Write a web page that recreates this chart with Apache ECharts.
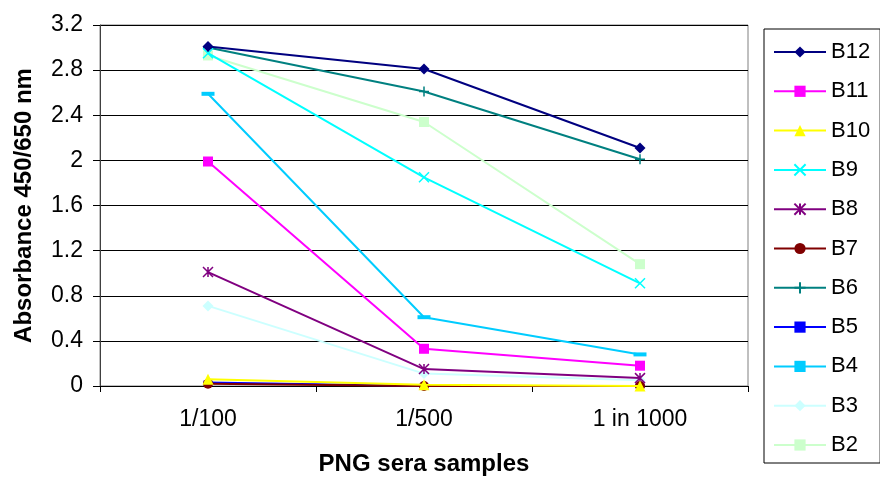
<!DOCTYPE html>
<html>
<head>
<meta charset="utf-8">
<script src="https://cdn.jsdelivr.net/npm/echarts@6/dist/echarts.min.js"></script>
<style>
  html, body { margin: 0; padding: 0; background: #fff; }
  #chart { width: 880px; height: 477px; }
</style>
</head>
<body>
<div id="chart"></div>
<script>
// 数据
var categories = ['1/100', '1/500', '1 in 1000']
var seriesNames = ['B12', 'B11', 'B10', 'B9', 'B8', 'B7', 'B6', 'B5', 'B4', 'B3', 'B2']
var b12 = [3.01, 2.81, 2.11]
var b11 = [1.99, 0.33, 0.18]
var b10 = [0.06, 0.01, 0.0]
var b9 = [2.95, 1.85, 0.91]
var b8 = [1.01, 0.15, 0.07]
var b7 = [0.02, 0.0, 0.0]
var b6 = [3.0, 2.61, 2.01]
var b5 = [0.03, 0.0, 0.0]
var b4 = [2.59, 0.61, 0.28]
var b3 = [0.71, 0.11, 0.05]
var b2 = [2.93, 2.34, 1.08]
var yTicks = [0, 0.4, 0.8, 1.2, 1.6, 2, 2.4, 2.8, 3.2]

var seriesData = [b12, b11, b10, b9, b8, b7, b6, b5, b4, b3, b2]
var colors = ['#000080', '#FF00FF', '#FFFF00', '#00FFFF', '#800080', '#800000',
  '#008080', '#0000FF', '#00CCFF', '#CCFFFF', '#CCFFCC']
var symbols = ['diamond', 'rect', 'triangle',
  'path://M0,0L10,10M10,0L0,10',
  'path://M0,0L10,10M10,0L0,10M5,0L5,10',
  'circle',
  'path://M5,0L5,10M0,5L10,5',
  'rect', 'rect', 'diamond', 'rect']
var sizes = [11, 10, 11, 10, 10, 10, 10, [9, 4], [13, 4], 11, 10]
var strokeOnly = [false, false, false, true, true, false, true, false, false, false, false]

var font = 'Liberation Sans, Arial, sans-serif'
var myChart = echarts.init(document.getElementById('chart'))

var series = seriesNames.map(function (name, i) {
  return {
    name: name,
    type: 'line',
    data: seriesData[i],
    symbol: symbols[i],
    symbolSize: sizes[i],
    showAllSymbol: true,
    z: 2 + (seriesNames.length - i),
    lineStyle: { color: colors[i], width: 2 },
    itemStyle: {
      color: strokeOnly[i] ? 'none' : colors[i],
      borderColor: colors[i],
      borderWidth: strokeOnly[i] ? 1.5 : 0
    },
    emphasis: { disabled: true }
  }
})

var option = {
  animation: false,
  color: colors,
  grid: {
    left: 100,
    top: 25,
    width: 648,
    height: 361,
    outerBoundsMode: 'none',
    containLabel: false,
    show: true,
    borderColor: '#808080',
    borderWidth: 1
  },
  legend: {
    orient: 'vertical',
    left: 764,
    top: 29,
    padding: [12, 10, 7, 9],
    borderColor: '#000',
    borderWidth: 1,
    itemWidth: 52,
    itemHeight: 14,
    itemGap: 17.3,
    data: seriesNames,
    textStyle: { color: '#000', fontSize: 22, fontFamily: font, padding: [0, 0, 0, 0] }
  },
  xAxis: {
    type: 'category',
    data: categories,
    boundaryGap: true,
    name: 'PNG sera samples',
    nameLocation: 'middle',
    nameGap: 66,
    nameTextStyle: { color: '#000', fontSize: 24, fontWeight: 'bold', fontFamily: font },
    axisLine: { lineStyle: { color: '#000', width: 1 } },
    axisTick: { show: true, length: 6, lineStyle: { color: '#000' } },
    axisLabel: { color: '#000', fontSize: 23, fontFamily: font, margin: 22 },
    splitLine: { show: false }
  },
  yAxis: {
    type: 'value',
    min: 0,
    max: 3.2,
    interval: 0.4,
    name: 'Absorbance 450/650 nm',
    nameLocation: 'middle',
    nameGap: 64,
    nameTextStyle: { color: '#000', fontSize: 24, fontWeight: 'bold', fontFamily: font },
    axisLine: { show: true, lineStyle: { color: '#404040', width: 1 } },
    axisTick: { show: true, length: 7, lineStyle: { color: '#000' } },
    axisLabel: {
      color: '#000', fontSize: 23, fontFamily: font, margin: 17,
      formatter: function (v) {
        var t = yTicks.find(function (x) { return Math.abs(x - v) < 1e-6 })
        return t === undefined ? '' : String(t)
      }
    },
    splitLine: { show: true, lineStyle: { color: '#000', width: 1 } }
  },
  series: series
}

myChart.setOption(option)
</script>
</body>
</html>
